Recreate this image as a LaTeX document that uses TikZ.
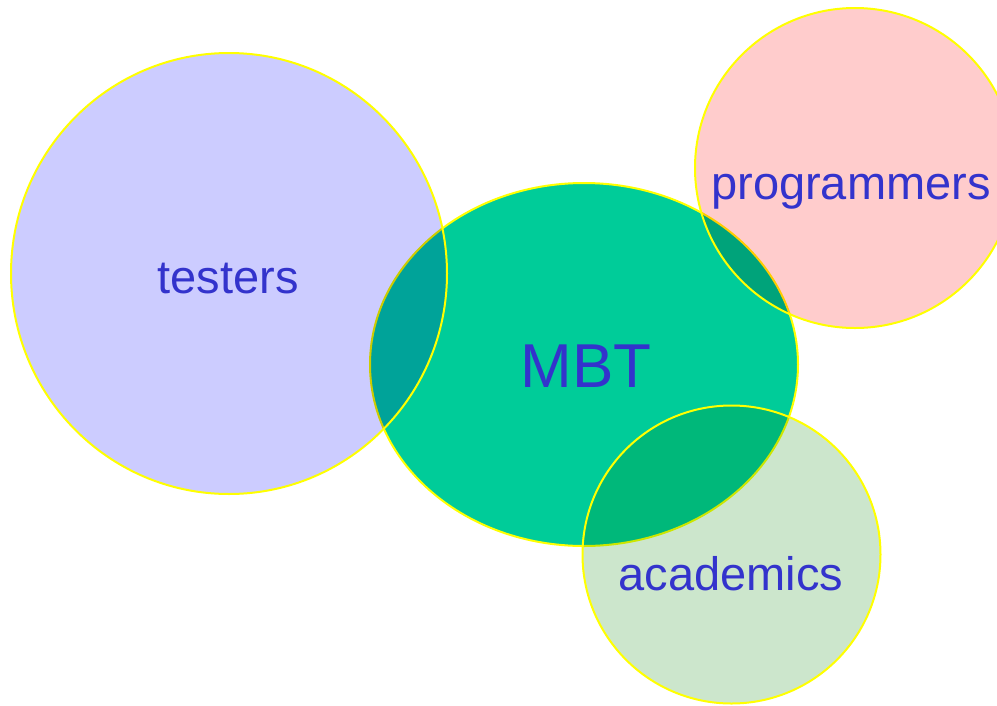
\documentclass[tikz,border=0pt]{standalone}
\usepackage{fontspec}
\setmainfont{Liberation Sans}
\definecolor{txtblue}{HTML}{3333CC}
\definecolor{testfill}{HTML}{CCCCFF}
\definecolor{mbtfill}{HTML}{00CC99}
\definecolor{progfill}{HTML}{FFCCCC}
\definecolor{acadfill}{HTML}{CCE6CC}
\definecolor{edge}{HTML}{FFFF00}
\tikzset{
  lbl/.style={text=txtblue, anchor=base, inner sep=0pt},
  rim/.style={draw=edge, line width=2pt}
}
\begin{document}
\begin{tikzpicture}[x=1pt,y=-1pt]
\useasboundingbox (0,0) rectangle (997,705);
\fill[white] (0,0) rectangle (997,705);
\clip (0,0) rectangle (997,705);
\path[fill=mbtfill, rim] (584,364.5) ellipse [x radius=214, y radius=181.5];
\begin{scope}[blend mode=multiply]
  \fill[testfill] (229,273.5) ellipse [x radius=218, y radius=220.5];
  \fill[progfill] (855,168) circle [radius=160];
  \fill[acadfill] (731.5,554.5) circle [radius=149];
\end{scope}
\draw[rim] (229,273.5) ellipse [x radius=218, y radius=220.5];
\draw[rim] (855,168) circle [radius=160];
\draw[rim] (731.5,554.5) circle [radius=149];
\node[lbl, font=\fontsize{47}{50}\selectfont] (testers) at (228,293) {testers};
\node[lbl, font=\fontsize{62}{66}\selectfont] (mbt) at (586,387) {MBT};
\node[lbl, font=\fontsize{47}{50}\selectfont] (prog) at (851,199) {programmers};
\node[lbl, font=\fontsize{47}{50}\selectfont] (acad) at (731,590) {academics};
\end{tikzpicture}
\end{document}
